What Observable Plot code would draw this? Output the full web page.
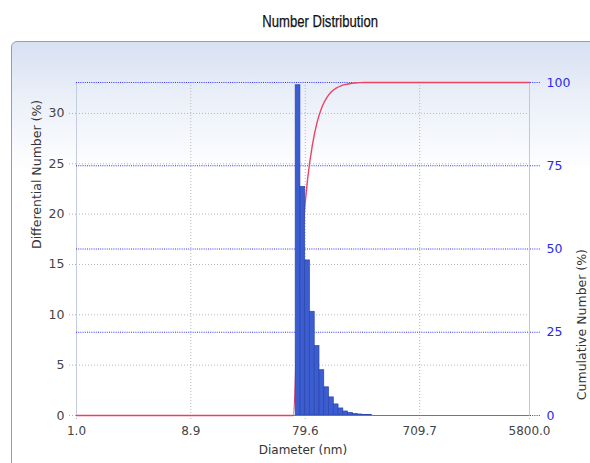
<!DOCTYPE html>
<html><head><meta charset="utf-8">
<script src="https://cdn.jsdelivr.net/npm/d3@7"></script>
<script src="https://cdn.jsdelivr.net/npm/@observablehq/plot@0.6"></script>
<style>
html,body{margin:0;padding:0;background:#fff;}
#root{position:relative;width:590px;height:463px;overflow:hidden;font-family:"DejaVu Sans",sans-serif;}
#title{position:absolute;left:0;top:12px;width:640px;text-align:center;line-height:20px;}
#title span{display:inline-block;transform:scaleX(0.77);font-family:"Liberation Sans",Arial,sans-serif;font-size:17px;color:#111;-webkit-text-stroke:0.25px #111;}
#panel{position:absolute;left:11px;top:41px;width:640px;height:440px;border:1px solid #9a9fa6;border-radius:6px;background:linear-gradient(to bottom,#d7e1f2 0px,#e9eef8 50px,#ffffff 130px);}
#chart{position:absolute;left:0;top:41px;}
</style></head><body>
<div id="root"><div id="panel"></div><div id="title"><span>Number Distribution</span></div><div id="chart"></div></div>
<script>
// Histogram bin edges (nm) and differential number (%)
const binEdges = [66.2, 72.5, 79.4, 87.0, 95.3, 104.4, 114.4, 125.3, 137.3, 150.4, 164.7, 180.4, 197.6, 216.5, 237.1, 259.8, 284.6];
const differential = [32.8, 22.7, 15.4, 10.3, 6.9, 4.5, 2.8, 1.8, 1.1, 0.7, 0.4, 0.25, 0.15, 0.1, 0.05, 0.05];
// Cumulative number curve (%)
const cumDiameter = [1, 63.2, 69.3, 75.9, 83.1, 91.1, 99.8, 109.3, 119.7, 131.2, 143.7, 157.4, 172.4, 188.9, 206.9, 226.6, 248.3, 271.9, 5800];
const cumulative = [0, 0, 32.8, 55.5, 70.9, 81.2, 88.1, 92.6, 95.4, 97.2, 98.3, 99.0, 99.4, 99.7, 99.85, 99.95, 100, 100, 100];
// Axes
const xTicks = [1, 8.9, 79.6, 709.7, 5800];
const xTickLabels = ["1.0", "8.9", "79.6", "709.7", "5800.0"];
const leftTicks = [0, 5, 10, 15, 20, 25, 30];
const rightTicks = [0, 25, 50, 75, 100];
const leftMax = 33.07;

const K = leftMax / 100;
const bars = differential.map((v, i) => ({x1: binEdges[i], x2: binEdges[i + 1], v}));
const cum = cumulative.map((c, i) => ({x: cumDiameter[i], c}));
const xLab = xTicks.map((x, i) => ({x, t: xTickLabels[i]}));

const chart = Plot.plot({
  width: 590, height: 422,
  marginLeft: 76, marginRight: 61, marginTop: 41, marginBottom: 48,
  style: {background: "transparent", overflow: "visible", fontFamily: "DejaVu Sans, sans-serif", fontSize: "12.5px"},
  x: {type: "log", domain: [1, 5800]},
  y: {domain: [0, leftMax]},
  marks: [
    Plot.gridY(leftTicks.slice(1), {stroke: "#b8b8b8", strokeOpacity: 1, strokeDasharray: "1,2"}),
    Plot.gridX(xTicks.slice(1, -1), {stroke: "#b8b8b8", strokeOpacity: 1, strokeDasharray: "1,2"}),
    Plot.ruleX([1], {stroke: "#c4cce0"}),
    Plot.ruleX([5800], {stroke: "#c8c8c8"}),
    Plot.ruleY(rightTicks.slice(1).map(v => v * K), {stroke: "#3333ff", strokeDasharray: "1,1.2"}),
    Plot.axisY(leftTicks, {anchor: "left", tickSize: 8, tickPadding: 4, stroke: "#b0b0b0", strokeDasharray: "1,2", fill: "#444", label: null}),
    Plot.axisY(rightTicks.map(v => v * K), {anchor: "right", tickSize: 11, tickPadding: 6, stroke: "#3333ff", strokeDasharray: "1,1.2", fill: "#2a2aee", tickFormat: d => String(Math.round(d / K)), label: null}),
    Plot.axisX(xTicks, {anchor: "bottom", tickSize: 6, tickPadding: 7, stroke: "#b0b0b0", strokeDasharray: "1,2", fill: "#444", tickFormat: () => "", label: null}),
    Plot.text(xLab, {x: "x", text: "t", frameAnchor: "bottom", lineAnchor: "top", dy: 11, fill: "#444", fontSize: 12}),
    Plot.line(cum, {x: "x", y: d => d.c * K, stroke: "#ee4262", strokeWidth: 1.4, curve: "monotone-x"}),
    Plot.rectY(bars, {x1: "x1", x2: "x2", y: "v", fill: "#3b5dd0", stroke: "#2a46ae", strokeWidth: 0.7}),
    Plot.ruleY([0], {stroke: "#6a6ad8"}),
    Plot.text(["Diameter (nm)"], {frameAnchor: "bottom", lineAnchor: "top", dy: 30, fill: "#333", fontSize: 12}),
    Plot.text(["Differential Number (%)"], {frameAnchor: "left", dx: -40, rotate: -90, fill: "#333", fontSize: 12.5}),
    Plot.text(["Cumulative Number (%)"], {frameAnchor: "right", dx: 52, rotate: -90, fill: "#333", fontSize: 12.5})
  ]
});
document.getElementById("chart").appendChild(chart);
</script>
</body></html>
